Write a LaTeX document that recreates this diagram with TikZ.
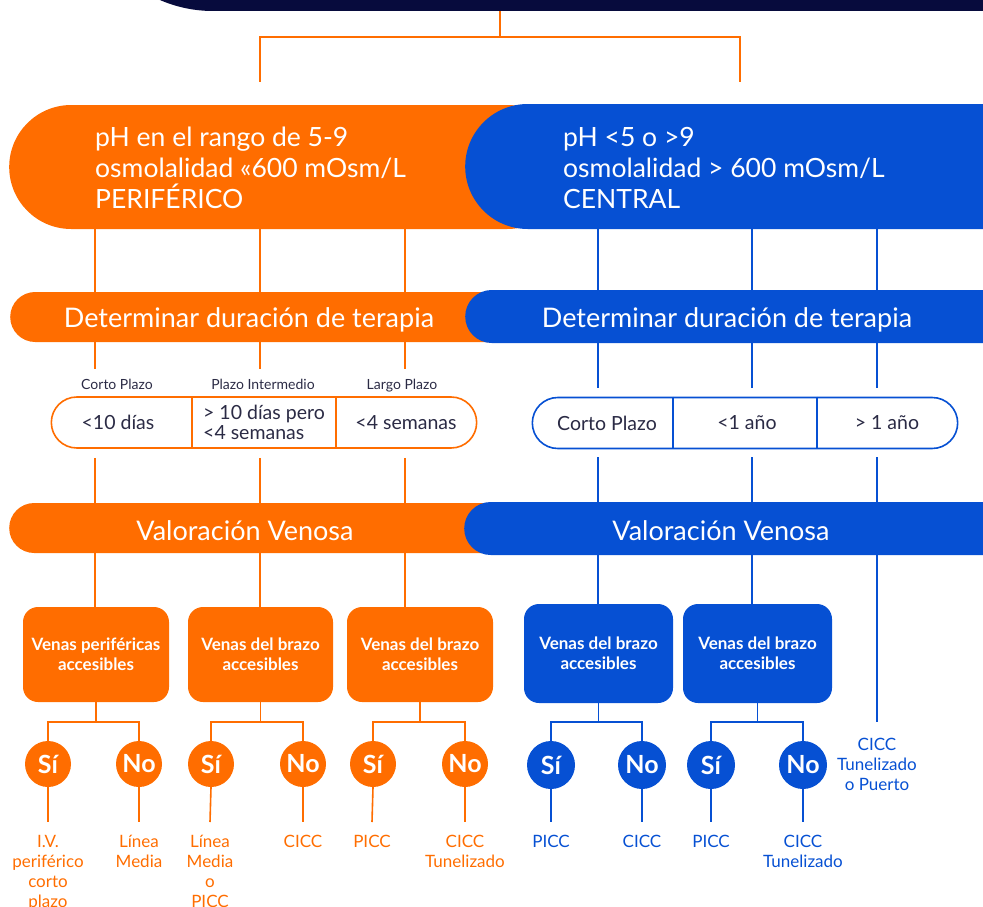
\documentclass[tikz,border=0pt]{standalone}
\usepackage{fontspec}
\setmainfont{Lato}
\usetikzlibrary{shapes.misc}
\definecolor{naranja}{HTML}{FF6D00}
\definecolor{azul}{HTML}{0650D3}
\definecolor{marino}{HTML}{070B3D}
\definecolor{tinta}{HTML}{2B2B45}

\begin{document}
\begin{tikzpicture}[x=1pt, y=-1pt,
  opill/.style={rounded rectangle, fill=naranja, inner sep=0pt},
  bpill/.style={rounded rectangle, fill=azul, inner sep=0pt},
  titulo/.style={text=white, align=left, inner sep=0pt, font=\fontsize{26.5}{31}\selectfont},
  banda/.style={text=white, inner sep=0pt, anchor=base, font=\fontsize{27}{30}\selectfont},
  plazo/.style={text=tinta, inner sep=0pt, outer sep=10pt, anchor=base, font=\fontsize{14}{16}\selectfont},
  marco/.style={rounded rectangle, draw=#1, fill=white, line width=1.6pt, minimum width=432pt, minimum height=51pt},
  celda/.style={rectangle, minimum width=144pt, minimum height=51pt, inner sep=0pt, outer sep=0pt, text=tinta, font=\fontsize{19.5}{20}\selectfont},
  caja/.style={rectangle, rounded corners=15pt, fill=#1, inner sep=0pt, text=white, align=center, font=\bfseries\fontsize{17}{20}\selectfont},
  circulo/.style={circle, fill=#1, inner sep=0pt, text=white, font=\bfseries\fontsize{25}{25}\selectfont},
  final/.style={text=#1, align=center, inner sep=0pt, outer sep=13pt, anchor=north, font=\fontsize{17}{20}\selectfont},
  olinea/.style={draw=naranja, line width=1.6pt},
  blinea/.style={draw=azul, line width=1.6pt}]

\useasboundingbox (0,0) rectangle (983,907);
\clip (0,0) rectangle (983,907);

% banda superior
\fill[marino, rounded corners=133pt] (80,-300) rectangle (1200,11);
\coordinate (t0) at (500,11);
\coordinate (t3) at (500,37);
\coordinate (t1) at (260,82);
\coordinate (t2) at (740,82);
\path[draw, olinea, line width=2pt] (t0) -- (t3);
\path[draw, olinea, line width=2pt] (t1) |- (t3) -| (t2);

% columnas
\coordinate (col1) at (95,0);
\coordinate (col2) at (260,0);
\coordinate (col3) at (405,0);
\coordinate (col4) at (598,0);
\coordinate (col5) at (752,0);
\coordinate (col6) at (877,0);

% periferico / central
\node[opill, minimum width=560pt, minimum height=124pt, anchor=west] (a) at (9,167) {};
\node[bpill, minimum width=700pt, minimum height=125pt, anchor=west] (b) at (465,166.5) {};
\node[titulo, anchor=west] (c) at (95,168)
{pH en el rango de 5-9\\osmolalidad «600 mOsm/L\\PERIFÉRICO};
\node[titulo, anchor=west] (d) at (563,168)
{pH <5 o >9\\osmolalidad > 600 mOsm/L\\CENTRAL};

% duracion
\node[opill, minimum width=560pt, minimum height=50pt, anchor=west] (e) at (10,317) {};
\node[bpill, minimum width=700pt, minimum height=53pt, anchor=west] (f) at (465,316.5) {};
\node[banda] (g) at (249,327) {Determinar duración de terapia};
\node[banda] (h) at (727,327) {Determinar duración de terapia};
\path[draw, olinea] (a.south -| col1) -- (e.north -| col1);
\path[draw, olinea] (a.south -| col2) -- (e.north -| col2);
\path[draw, olinea] (a.south -| col3) -- (e.north -| col3);
\path[draw, blinea] (b.south -| col4) -- (f.north -| col4);
\path[draw, blinea] (b.south -| col5) -- (f.north -| col5);
\path[draw, blinea] (b.south -| col6) -- (f.north -| col6);

\node[plazo] (i) at (117,389) {Corto Plazo};
\node[plazo] (j) at (263,389) {Plazo Intermedio};
\node[plazo] (k) at (402,389) {Largo Plazo};
\path[draw, olinea] (e.south -| col1) -- (i.north -| col1);
\path[draw, olinea] (e.south -| col2) -- (j.north -| col2);
\path[draw, olinea] (e.south -| col3) -- (k.north -| col3);

% plazos
\node[marco=naranja] (l) at (264,422.5) {};
\node[celda] (n) at (118,422.5) {<10 días};
\node[celda, align=left] (o) at (264,422.5) {> 10 días pero\\<4 semanas};
\node[celda] (p) at (406,422.5) {<4 semanas};
\path[draw, olinea] (l.north -| 192,0) -- (l.south -| 192,0);
\path[draw, olinea] (l.north -| 336,0) -- (l.south -| 336,0);

\node[marco=azul] (m) at (745,423) {};
\node[celda] (q) at (607,423) {Corto Plazo};
\node[celda] (r) at (747,423) {<1 año};
\node[celda] (s) at (887,423) {> 1 año};
\path[draw, blinea] (m.north -| 673,0) -- (m.south -| 673,0);
\path[draw, blinea] (m.north -| 817,0) -- (m.south -| 817,0);
\path[draw, blinea, shorten >=9pt] (f.south -| col4) -- (m.north -| col4);
\path[draw, blinea, shorten >=9pt] (f.south -| col5) -- (m.north -| col5);
\path[draw, blinea, shorten >=9pt] (f.south -| col6) -- (m.north -| col6);

% valoracion
\node[opill, minimum width=560pt, minimum height=50pt, anchor=west] (t) at (9,528) {};
\node[bpill, minimum width=700pt, minimum height=53pt, anchor=west] (u) at (464,528.5) {};
\node[banda] (v) at (245,540) {Valoración Venosa};
\node[banda] (w) at (721,540) {Valoración Venosa};
\path[draw, olinea, shorten <=9pt] (l.south -| col1) -- (t.north -| col1);
\path[draw, olinea, shorten <=9pt] (l.south -| col2) -- (t.north -| col2);
\path[draw, olinea, shorten <=9pt] (l.south -| col3) -- (t.north -| col3);
\path[draw, blinea, shorten <=8pt] (m.south -| col4) -- (u.north -| col4);
\path[draw, blinea, shorten <=8pt] (m.south -| col5) -- (u.north -| col5);
\path[draw, blinea, shorten <=8pt] (m.south -| col6) -- (u.north -| col6);

% venas
\node[caja=naranja, minimum width=146pt, minimum height=95pt] (x) at (96,654.5)
{Venas periféricas\\accesibles};
\node[caja=naranja, minimum width=145pt, minimum height=95pt] (y) at (260.5,654.5)
{Venas del brazo\\accesibles};
\node[caja=naranja, minimum width=146pt, minimum height=95pt] (z) at (420,654.5)
{Venas del brazo\\accesibles};
\node[caja=azul, minimum width=149pt, minimum height=99pt] (aa) at (598.5,653.5)
{Venas del brazo\\accesibles};
\node[caja=azul, minimum width=149pt, minimum height=99pt] (ab) at (757.5,653.5)
{Venas del brazo\\accesibles};
\path[draw, olinea] (t.south -| col1) -- (x.north -| col1);
\path[draw, olinea] (t.south -| col2) -- (y.north -| col2);
\path[draw, olinea] (t.south -| col3) -- (z.north -| col3);
\path[draw, blinea] (u.south -| col4) -- (aa.north -| col4);
\path[draw, blinea] (u.south -| col5) -- (ab.north -| col5);

\node[final=azul, outer sep=16pt] (aw) at (877,722) {CICC\\Tunelizado\\o Puerto};
\path[draw, blinea] (u.south -| col6) -- (aw.north);

% si / no
\node[circulo=naranja, minimum size=46pt] (ac) at (48,764) {Sí};
\node[circulo=naranja, minimum size=46pt] (ad) at (139,764) {No};
\node[circulo=naranja, minimum size=46pt] (ae) at (211,764) {Sí};
\node[circulo=naranja, minimum size=46pt] (af) at (303,764) {No};
\node[circulo=naranja, minimum size=46pt] (ag) at (373,764) {Sí};
\node[circulo=naranja, minimum size=46pt] (ah) at (465,764) {No};
\node[circulo=azul, minimum size=48pt] (ai) at (551,765) {Sí};
\node[circulo=azul, minimum size=48pt] (aj) at (642,765) {No};
\node[circulo=azul, minimum size=48pt] (ak) at (711,765) {Sí};
\node[circulo=azul, minimum size=48pt] (al) at (803,765) {No};

\coordinate (j1) at (96,722);
\coordinate (j2) at (260.5,722);
\coordinate (j3) at (420,722);
\coordinate (j4) at (598.5,722);
\coordinate (j5) at (757.5,722);
\path[draw, olinea] (x.south) -- (j1);
\path[draw, olinea] (ac.north) |- (j1) -| (ad.north);
\path[draw, olinea] (y.south) -- (j2);
\path[draw, olinea] (ae.north) |- (j2) -| (af.north);
\path[draw, olinea] (z.south) -- (j3);
\path[draw, olinea] (ag.north) |- (j3) -| (ah.north);
\path[draw, blinea] (aa.south) -- (j4);
\path[draw, blinea] (ai.north) |- (j4) -| (aj.north);
\path[draw, blinea] (ab.south) -- (j5);
\path[draw, blinea] (ak.north) |- (j5) -| (al.north);

% resultados
\node[final=naranja] (am) at (48,822) {I.V.\\periférico\\corto\\plazo};
\node[final=naranja] (an) at (139,822) {Línea\\Media};
\node[final=naranja] (ao) at (210,822) {Línea\\Media\\o\\PICC};
\node[final=naranja] (ap) at (303,822) {CICC};
\node[final=naranja] (aq) at (372,822) {PICC};
\node[final=naranja] (ar) at (465,822) {CICC\\Tunelizado};
\node[final=azul] (as) at (551,822) {PICC};
\node[final=azul] (at) at (642,822) {CICC};
\node[final=azul] (au) at (711,822) {PICC};
\node[final=azul] (av) at (803,822) {CICC\\Tunelizado};
\path[draw, olinea] (ac.south) -- (am.north);
\path[draw, olinea] (ad.south) -- (an.north);
\path[draw, olinea] (ae.south) -- (ao.north);
\path[draw, olinea] (af.south) -- (ap.north);
\path[draw, olinea] (ag.south) -- (aq.north);
\path[draw, olinea] (ah.south) -- (ar.north);
\path[draw, blinea] (ai.south) -- (as.north);
\path[draw, blinea] (aj.south) -- (at.north);
\path[draw, blinea] (ak.south) -- (au.north);
\path[draw, blinea] (al.south) -- (av.north);
\end{tikzpicture}
\end{document}
